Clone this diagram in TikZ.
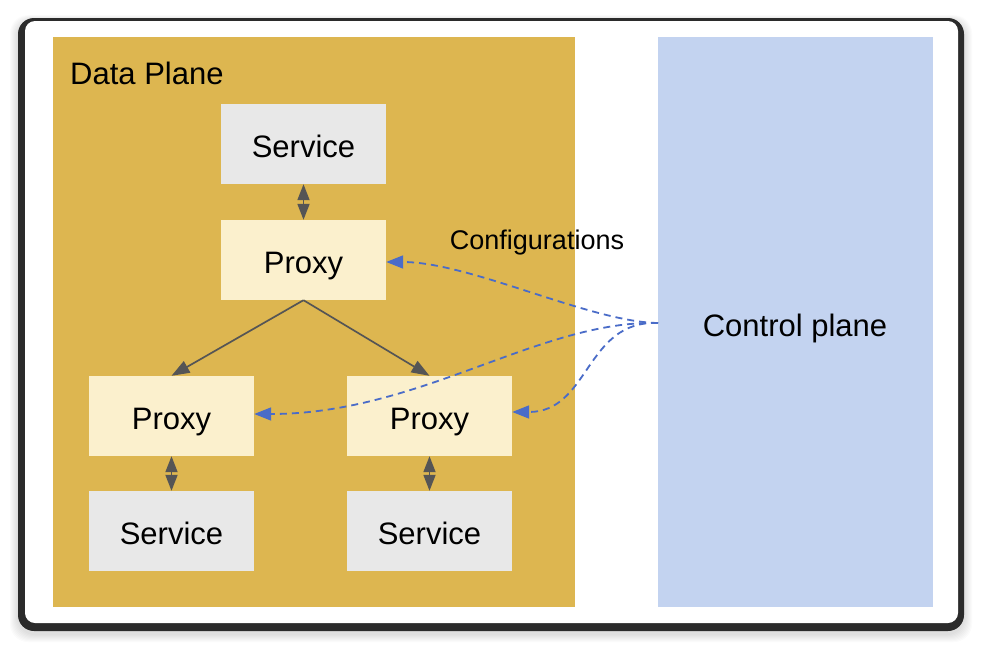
\documentclass[tikz,border=0pt]{standalone}
\usepackage{fontspec}
\setmainfont{Liberation Sans}
\usetikzlibrary{arrows.meta,calc}
\definecolor{dataplane}{HTML}{DDB650}
\definecolor{ctrlplane}{HTML}{C3D3F0}
\definecolor{svcfill}{HTML}{E8E8E8}
\definecolor{prxfill}{HTML}{FBF0CD}
\definecolor{arrgray}{HTML}{555555}
\definecolor{cfgblue}{HTML}{4A6CC8}
\definecolor{frame}{HTML}{2B2B2B}
\tikzset{
  bigtext/.style={font=\fontsize{31}{36}\selectfont,text height=30pt,text depth=4pt},
  box/.style={minimum width=165pt,minimum height=80pt,inner sep=0pt,bigtext},
  svcbox/.style={box,fill=svcfill},
  prxbox/.style={box,fill=prxfill},
  biarrow/.style={arrgray,line width=1.8pt,{Triangle[length=16pt,width=12pt]}-{Triangle[length=16pt,width=12pt]}},
  treearrow/.style={arrgray,line width=1.7pt,-{Triangle[length=18pt,width=13pt]}},
  cfgarrow/.style={cfgblue,line width=1.8pt,dash pattern=on 7pt off 5pt,-{Triangle[length=17pt,width=13pt]}},
}
\begin{document}
\begin{tikzpicture}[x=1pt,y=-1pt]
\useasboundingbox (0,0) rectangle (982,649);
% shadow
\foreach \i in {1,...,8}{
  \fill[black,opacity=0.015,rounded corners=18pt] ($(18,20)+(-\i,-\i*0.6)$) rectangle ($(964,634)+(\i,\i)$);
}
% window frame
\fill[frame,rounded corners=16pt] (18,18) rectangle (964,631);
\fill[white,rounded corners=10pt] (25,21) rectangle (958,623);
% planes
\fill[dataplane] (53,37) rectangle (575,607);
\fill[ctrlplane] (658,37) rectangle (933,607);
\node[anchor=base west,inner sep=0pt,font=\fontsize{31}{36}\selectfont] (dplabel) at (70,84) {Data Plane};
\node[inner sep=0pt,bigtext] (cplabel) at (795,323) {Control plane};
% boxes
\node[svcbox] (svcT) at (303.5,144) {Service};
\node[prxbox] (prxT) at (303.5,260) {Proxy};
\node[prxbox] (prxL) at (171.5,416) {Proxy};
\node[prxbox] (prxR) at (429.5,416) {Proxy};
\node[svcbox] (svcL) at (171.5,531) {Service};
\node[svcbox] (svcR) at (429.5,531) {Service};
% arrows
\draw[biarrow] (svcT.south) -- (prxT.north);
\draw[biarrow] (prxL.south) -- (svcL.north);
\draw[biarrow] (prxR.south) -- (svcR.north);
\draw[treearrow] (prxT.south) -- (prxL.north);
\draw[treearrow] (prxT.south) -- (prxR.north);
% configurations
\coordinate (cp) at (658,323);
\node[inner sep=0pt,font=\fontsize{27}{32}\selectfont,text height=21pt,text depth=5pt] (cfg) at (537,241) {Configurations};
\draw[cfgarrow] (cp) .. controls (590,322) and (470,262) .. ($(prxT.east)+(0,2)$);
\draw[cfgarrow] (cp) .. controls (540,320) and (420,414) .. ($(prxL.east)+(0,-2)$);
\draw[cfgarrow] (cp) .. controls (585,320) and (590,412) .. ($(prxR.east)+(0,-4)$);
\end{tikzpicture}
\end{document}
